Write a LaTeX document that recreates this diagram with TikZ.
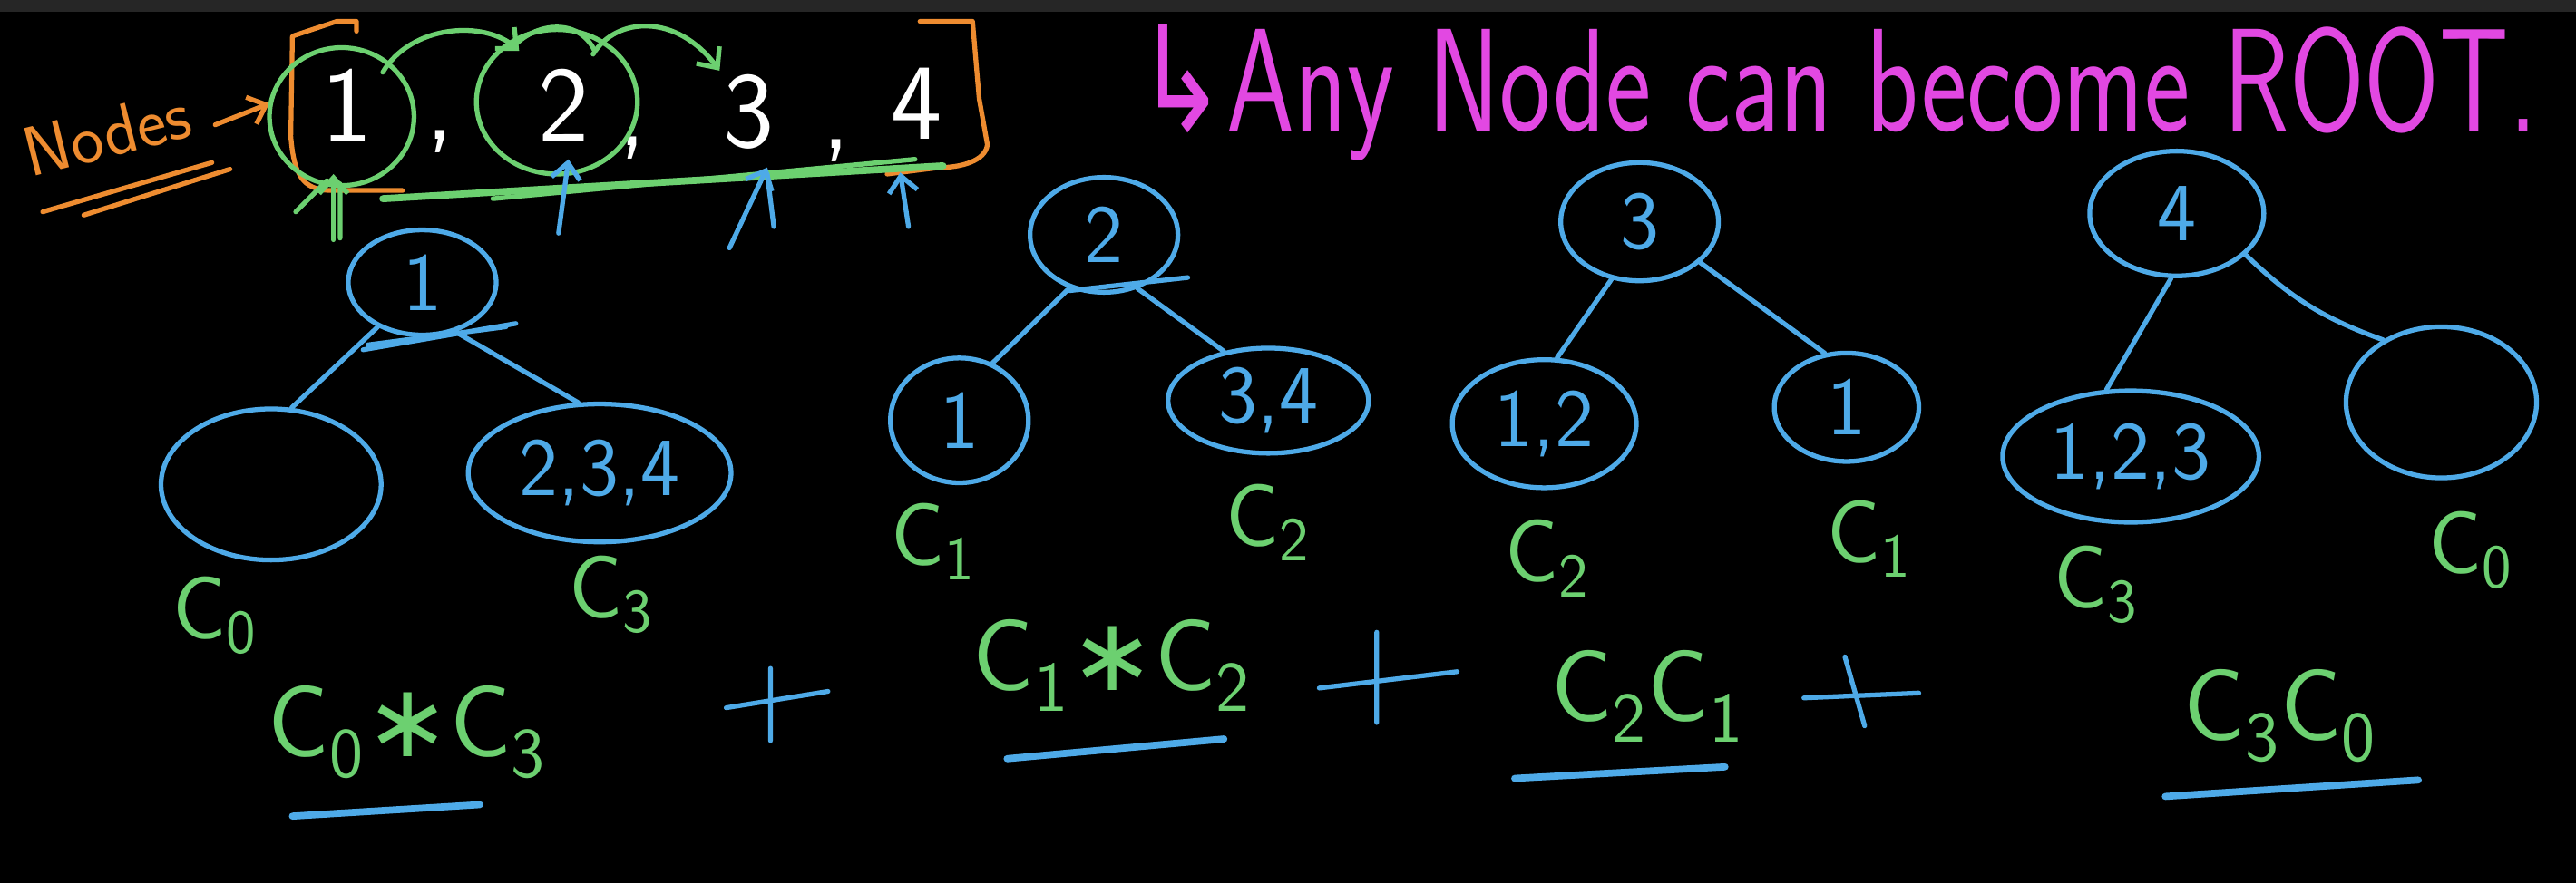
\documentclass[tikz,border=0pt]{standalone}
\usepackage{fontspec}
\usepackage{graphicx}
\usetikzlibrary{shapes.geometric,arrows.meta}
\newfontfamily\symfont{DejaVu Sans}
\definecolor{inkblue}{RGB}{78,170,232}
\definecolor{inkgreen}{RGB}{108,208,112}
\definecolor{inkpink}{RGB}{226,72,226}
\definecolor{inkorange}{RGB}{238,140,48}
\definecolor{topbar}{RGB}{38,38,38}
\newcommand{\px}{0.018112cm}
\newcommand{\treefont}{\fontsize{26}{26}\selectfont\sffamily}
\newcommand{\labfont}{\fontsize{28}{28}\selectfont\sffamily}
\newcommand{\Cs}[1]{C\textsubscript{#1}}
\newcommand{\tms}{{\symfont\char"2217}}

\tikzset{
  ink/.style={line width=1.5pt, line cap=round, line join=round},
  tnode/.style 2 args={ellipse, draw=inkblue, ink, inner sep=0pt, text=inkblue,
    font=\treefont, minimum width=#1*\px, minimum height=#2*\px},
  clabel/.style={text=inkgreen, font=\labfont, inner sep=0pt},
  sumterm/.style={text=inkgreen, font=\fontsize{32}{32}\selectfont\sffamily, inner sep=0pt},
  digit/.style={text=white, font=\fontsize{34}{34}\selectfont\sffamily, inner sep=0pt},
  ring/.style 2 args={ellipse, draw=inkgreen, ink, inner sep=0pt,
    minimum width=#1*\px, minimum height=#2*\px},
  tip/.style={-{Straight Barb[length=5pt,width=9pt]}},
}

\begin{document}
\begin{tikzpicture}[x=\px, y=-\px]
\fill[black] (0,0) rectangle (1568,538);
\useasboundingbox (0,0) rectangle (1568,538);
\fill[topbar] (0,0) rectangle (1568,7);

\node[anchor=base west, inner sep=0pt, text=inkpink,
  font=\fontsize{46}{46}\selectfont\sffamily] (note) at (691,80)
  {\scalebox{0.74}[1]{{\symfont ↳}Any Node can become ROOT.}};

\node[rotate=14, anchor=base west, inner sep=0pt, text=inkorange,
  font=\fontsize{22}{22}\selectfont\sffamily] (nodes) at (18,108) {Nodes};
\coordinate (ntail) at (131,76);
\coordinate (nhead) at (164,63);
\draw[ink, inkorange, tip] (ntail) -- (nhead);
\draw[ink, inkorange] (26,129) -- (129,99) (51,131) -- (140,103);
\draw[ink, inkorange] (217,19) -- (217,13) -- (205,13) -- (178,22) -- (177,83)
  .. controls (179,108) and (185,115) .. (200,116) -- (245,116);
\draw[ink, inkorange] (560,13) -- (592,13) -- (596,60) -- (601,88)
  .. controls (600,98) and (585,102) .. (572,102) -- (540,106);

\foreach \d/\x/\y in {1/211/64,2/343/64,3/456/68,4/558/63}
  \node[digit] (n\d) at (\x,\y) {\d};
\foreach \k/\x/\y in {1/268/86,2/385/90,3/509/92}
  \node[digit] (c\k) at (\x,\y) {,};

\node[ring={88}{84}] (g1) at (208,71) {};
\node[ring={98}{88}] (g2) at (339,62) {};
\draw[ink, inkgreen, tip] (233,44) .. controls (250,15) and (295,12) .. (316,31);
\draw[ink, inkgreen] (312,29) .. controls (325,14) and (352,10) .. (362,31);
\draw[ink, inkgreen, tip] (361,33) .. controls (375,10) and (412,8) .. (438,43);
\draw[ink, inkgreen, line width=2.2pt] (233,121) -- (574,101);
\draw[ink, inkgreen] (300,121) -- (557,97);
\draw[ink, inkgreen, tip] (203,146) -- (203,106);
\draw[ink, inkgreen] (207,145) -- (207,112) (180,129) -- (199,110);

\draw[ink, inkblue, tip] (340,142) -- (346,97);
\draw[ink, inkblue, tip] (444,151) -- (467,102);
\draw[ink, inkblue] (471,138) -- (467,106);
\draw[ink, inkblue, tip] (553,138) -- (548,105);

\node[tnode={90}{64}] (r1) at (257,172) {1};
\node[tnode={134}{92}] (a1) at (165,295) {};
\node[tnode={160}{84}] (b1) at (365,288) {2,3,4};
\draw[ink, inkblue] (r1.225) -- (a1.75);
\draw[ink, inkblue] (r1.304) -- (b1.107);
\draw[ink, inkblue] (221,213) -- (314,197) (224,210) -- (308,199);

\node[tnode={90}{70}] (r2) at (672,143) {2};
\node[tnode={84}{76}] (a2) at (584,256) {1};
\node[tnode={122}{64}] (b2) at (772,244) {3,4};
\draw[ink, inkblue] (r2.237) -- (a2.60);
\draw[ink, inkblue] (r2.302) -- (b2.132);
\draw[ink, inkblue] (651,177) -- (723,169);

\node[tnode={96}{72}] (r3) at (998,135) {3};
\node[tnode={112}{78}] (a3) at (940,258) {1,2};
\node[tnode={88}{66}] (b3) at (1124,248) {1};
\draw[ink, inkblue] (r3.244) -- (a3.79);
\draw[ink, inkblue] (r3.326) -- (b3.112);

\node[tnode={106}{76}] (r4) at (1325,130) {4};
\node[tnode={156}{80}] (a4) at (1297,278) {1,2,3};
\node[tnode={116}{92}] (b4) at (1486,245) {};
\draw[ink, inkblue] (r4.265) -- (a4.110);
\draw[ink, inkblue] (r4.329) to[bend right=12] (b4.133);

\node[clabel] (ca1) at (131,375) {\Cs{0}};
\node[clabel] (cb1) at (372,362) {\Cs{3}};
\node[clabel] (ca2) at (568,330) {\Cs{1}};
\node[clabel] (cb2) at (772,318) {\Cs{2}};
\node[clabel] (ca3) at (942,340) {\Cs{2}};
\node[clabel] (cb3) at (1138,328) {\Cs{1}};
\node[clabel] (ca4) at (1276,356) {\Cs{3}};
\node[clabel] (cb4) at (1504,335) {\Cs{0}};

\node[sumterm] (t1) at (248,446) {\Cs{0}\tms\Cs{3}};
\node[sumterm] (t2) at (677,405) {\Cs{1}\tms\Cs{2}};
\node[sumterm] (t3) at (1003,424) {\Cs{2}\Cs{1}};
\node[sumterm] (t4) at (1388,436) {\Cs{3}\Cs{0}};
\draw[ink, inkblue, line width=2.2pt] (178,497) -- (292,490) (613,462) -- (745,450)
  (922,474) -- (1050,467) (1318,485) -- (1472,475);
\draw[ink, inkblue] (469,407) -- (469,451) (442,431) -- (504,421);
\draw[ink, inkblue] (838,385) -- (838,440) (803,419) -- (887,409);
\draw[ink, inkblue] (1123,400) -- (1135,442) (1098,425) -- (1168,422);
\end{tikzpicture}
\end{document}
